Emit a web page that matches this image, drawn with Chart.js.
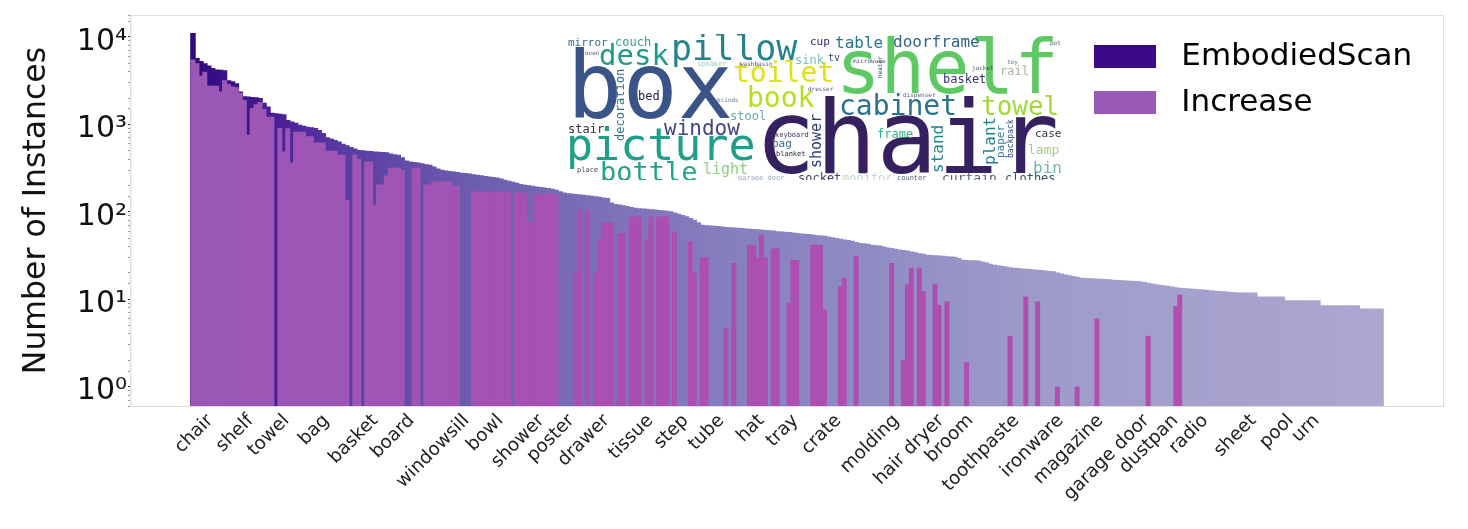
<!DOCTYPE html>
<html>
<head>
<meta charset="utf-8">
<style>
	body { margin: 0; background: #fff; }
	canvas { display: block; }
</style>
<script src="https://cdn.jsdelivr.net/npm/chart.js@4"></script>
</head>
<body>
<canvas id="instances" width="1468" height="529"></canvas>
<script type="text/javascript">
	var _ = null;

	// the categories that get a label, the others are not readable in the picture
	var tickLabels = [
		"chair", "shelf", "towel", "bag", "basket", "board", "windowsill", "bowl", "shower", "poster",
		"drawer", "tissue", "step", "tube", "hat", "tray", "crate", "molding", "hair dryer", "broom",
		"toothpaste", "ironware", "magazine", "garage door", "dustpan", "radio", "sheet", "pool", "urn"
	];

	// where each label ends on the bar axis, they are not evenly spaced in the picture
	var tickPositions = [
		4.4, 14.6, 23.7, 33.8, 46.2, 55.4, 69.3, 77.9, 88.3, 95.9,
		104.8, 115.9, 124.8, 133.9, 144, 152.7, 163.5, 178.2, 189.6, 197,
		208.6, 219.8, 229.9, 241.6, 248.9, 256.5, 268.7, 278.1, 284.7
	];

	var embodiedScan = [
		11100, 5750, 5300, 5000, 4700, 4400, 4250, 4200, 4150, 3200,
		3100, 2950, 2370, 2100, 2080, 2060, 2040, 2000, 1760, 1600,
		1360, 1340, 1320, 1300, 1120, 1080, 1040, 990, 960, 940,
		925, 910, 860, 795, 710, 690, 660, 635, 600, 575,
		550, 530, 510, 505, 500, 495, 490, 487, 482, 478,
		465, 455, 448, 420, 385, 375, 370, 365, 358, 350,
		345, 330, 312, 302, 297, 293, 289, 285, 280, 277,
		273, 269, 265, 261, 257, 253, 250, 247, 240, 233,
		226, 220, 214, 208, 204, 201, 198, 195, 192, 189,
		187, 183, 178, 172, 166, 163, 162, 160, 158, 156,
		154, 152, 150, 148, 146, 144, 128, 123, 121, 119,
		116, 113, 111, 110, 109, 108, 107, 106, 105, 104,
		103, 101, 98, 95, 92, 89, 85, 81, 76, 71,
		70, 69.5, 69, 68.5, 68, 67, 66.5, 66, 65.5, 65,
		64.5, 64, 63.5, 63, 62.5, 62, 61.5, 61, 60, 59.5,
		59, 58.5, 58, 57, 56.5, 56, 55.5, 55, 54, 53.5,
		53, 52, 51, 50, 49, 48, 47.5, 46.5, 45, 44,
		43.5, 43, 42, 41.5, 41, 40, 39, 38.5, 37.8, 37,
		36.5, 36, 35, 34.5, 33.5, 33, 32.3, 32, 31.8, 31.6,
		31.4, 31, 30.8, 30.6, 29.5, 28.3, 28, 27.9, 27.8, 27.7,
		27, 26.2, 25.5, 24.8, 24.4, 24, 23.6, 23.2, 22.9, 22.7,
		22.5, 22.3, 22.1, 21.9, 21.7, 21.5, 21.3, 21, 20.8, 20.2,
		19.7, 19.2, 18.8, 18.4, 18, 17.6, 17.5, 17.4, 17.3, 17.2,
		17.1, 17, 16.9, 16.7, 16.6, 16.5, 16.4, 16.3, 16.2, 16.1,
		16, 15.7, 15.4, 15.1, 14.8, 14.6, 14.4, 14.2, 14, 13.7,
		13.5, 13.4, 13.3, 13.2, 13.1, 13, 12.9, 12.8, 12.6, 12.5,
		12.4, 12.3, 12.2, 12.1, 12, 11.9, 11.9, 11.9, 11.9, 11.9,
		10.7, 10.7, 10.7, 10.7, 10.7, 10.7, 10.7, 9.7, 9.7, 9.7,
		9.7, 9.7, 9.7, 9.7, 9.7, 9.7, 8.5, 8.5, 8.5, 8.5,
		8.5, 8.5, 8.5, 8.5, 8.5, 8.5, 7.8, 7.8, 7.8, 7.8,
		7.8, 7.8
	];

	var increase = [
		5500, 5000, 3600, 4000, 2770, 2770, 2770, 2370, 3200, 2900,
		2700, 2650, 2300, 1900, 760, 1540, 1700, 1800, 1500, 1220,
		1220, _, 910, 490, 900, 365, 820, 820, 820, 730,
		730, 620, 620, 620, 500, 500, 500, 450, 450, 137,
		_, 450, 400, _, 376, 376, 120, 205, 205, 260,
		318, 318, 318, 300, _, _, 318, 318, _, 205,
		205, 222, 222, 222, 222, 222, 200, 200, _, _,
		_, 170, 170, 170, 170, 170, 170, 170, 170, 170,
		170, _, 165, 165, 165, 77, 77, 160, 160, 160,
		160, 160, 160, _, _, _, _, 20, 105, _,
		105, _, 20, 48, 75, 75, 75, _, 57, 57,
		_, 88, 88, 88, _, 48, 88, _, 88, 88,
		88, _, 59, _, _, _, 46, 20, _, 30,
		30, _, _, _, _, 4.7, _, 26, _, _,
		_, 42, 42, 30, 55, 30, _, 38, 38, _,
		_, 9, 28, 28, _, _, _, 42, 42, 42,
		7.6, _, _, _, 14, 17.6, _, _, 31, _,
		_, _, _, _, _, _, _, 26, _, _,
		2, 15, 22.9, _, 22.9, 12.3, _, _, 15, 8.6,
		_, 9.4, _, _, _, _, 1.9, _, _, _,
		_, _, _, _, _, _, _, 3.8, _, _,
		_, 10.7, _, _, 9.4, _, _, _, _, 1,
		_, _, _, _, 1, _, _, _, _, 6,
		_, _, _, _, _, _, _, _, _, _,
		_, _, 3.8, _, _, _, _, _, _, 8.3,
		11.3
	];

	var barIndexes = embodiedScan.map(function(v, i) { return i; });

	// word, x, baseline y, font size, colour, vertical
	var wordCloud = [
		["chair", 755, 173, 101, "#35215f"],
		["shelf", 836, 93, 74, "#5ec962"],
		["box", 567, 118, 92, "#3b5488"],
		["picture", 566, 160, 45, "#1f9e89"],
		["pillow", 671, 60, 35, "#26828e"],
		["desk", 599, 65, 29, "#1f9a8a"],
		["toilet", 733, 82, 28, "#dde318"],
		["book", 747, 107, 28, "#b5de2b"],
		["cabinet", 839, 115, 28, "#2c728e"],
		["towel", 981, 115, 26, "#a0da39"],
		["window", 664, 135, 21, "#414487"],
		["bottle", 600, 181, 27, "#20a386"],
		["table", 835, 48, 16, "#2a768e"],
		["doorframe", 893, 47, 16, "#33638d"],
		["mirror", 568, 46, 11, "#2f6c8e"],
		["couch", 615, 46, 12, "#3a9a8a"],
		["cup", 810, 45, 11, "#2e2e6e"],
		["basket", 943, 83, 12, "#31357b"],
		["bed", 638, 100, 12, "#222244"],
		["decoration", 624, 141, 12, "#2c728e", true],
		["stair", 568, 133, 12, "#333344"],
		["stool", 730, 120, 12, "#6aa8a8"],
		["sink", 795, 64, 12, "#77c0b8"],
		["tv", 828, 61, 10, "#444466"],
		["light", 703, 174, 15, "#8fd17a"],
		["frame", 877, 138, 12, "#2fb47c"],
		["shower", 821, 168, 15, "#2a3a78", true],
		["stand", 943, 173, 16, "#25858e", true],
		["plant", 995, 165, 16, "#26828e", true],
		["paper", 1004, 158, 11, "#3b7a9a", true],
		["backpack", 1013, 158, 8, "#2c4f80", true],
		["case", 1035, 137, 11, "#333344"],
		["lamp", 1028, 154, 13, "#a8c98a"],
		["bin", 1033, 173, 16, "#6fb7a8"],
		["rail", 1000, 75, 12, "#b0b0a0"],
		["curtain", 942, 182, 13, "#556677"],
		["clothes", 1005, 182, 12, "#335566"],
		["socket", 798, 182, 12, "#444466"],
		["keyboard", 775, 137, 7, "#333366"],
		["bag", 772, 147, 11, "#31688e"],
		["blanket", 776, 156, 7, "#222233"],
		["oven", 585, 55, 6, "#555577"],
		["washbasin", 740, 66, 6, "#555566"],
		["dresser", 808, 91, 6, "#555577"],
		["dispenser", 903, 97, 6, "#556677"],
		["microwave", 853, 63, 6, "#445566"],
		["place", 577, 172, 7, "#444455"],
		["blinds", 717, 102, 6, "#667788"],
		["speaker", 697, 66, 7, "#99ccbb"],
		["monitor", 842, 182, 12, "#c0dcc8"],
		["counter", 897, 180, 7, "#556677"],
		["garage door", 738, 180, 7, "#99aabb"],
		["heater", 882, 78, 6, "#334455", true],
		["jacket", 972, 70, 6, "#445566"],
		["pot", 1050, 45, 6, "#556677"],
		["toy", 1007, 64, 6, "#667788"]
	];

	var baseStops = [[0, [46, 10, 124]], [21, [74, 31, 150]], [40, [90, 62, 164]], [70, [108, 92, 174]],
		[110, [127, 116, 186]], [170, [143, 140, 196]], [220, [160, 156, 202]], [301, [172, 167, 208]]];
	var increaseStops = [[0, [154, 88, 182]], [60, [160, 84, 180]], [110, [170, 79, 178]], [250, [176, 79, 174]]];

	function mixColor(stops, i) {
		for (var k = 1; k < stops.length; k++) {
			if (i <= stops[k][0]) {
				var t = (i - stops[k - 1][0]) / (stops[k][0] - stops[k - 1][0]);
				var a = stops[k - 1][1], b = stops[k][1];
				return 'rgb(' + a.map(function(c, n) { return Math.round(c + (b[n] - c) * t); }).join(',') + ')';
			}
		}
		return 'rgb(' + stops[stops.length - 1][1].join(',') + ')';
	}

	var superscripts = { 0: '\u2070', 1: '\u00b9', 2: '\u00b2', 3: '\u00b3', 4: '\u2074' };

	var framePlugin = {
		id: 'frame',
		beforeDatasetsDraw: function(chart) {
			var a = chart.chartArea, ctx = chart.ctx;
			ctx.save();
			ctx.strokeStyle = '#dedede';
			ctx.lineWidth = 1;
			ctx.strokeRect(a.left - 0.5, a.top + 0.5, a.width + 1, a.height);
			ctx.restore();
		}
	};

	var wordCloudPlugin = {
		id: 'wordCloud',
		afterDraw: function(chart) {
			var ctx = chart.ctx;
			ctx.save();
			ctx.beginPath();
			ctx.rect(567, 34, 495, 146);
			ctx.clip();
			ctx.textAlign = 'left';
			ctx.textBaseline = 'alphabetic';
			wordCloud.forEach(function(w) {
				ctx.save();
				ctx.translate(w[1], w[2]);
				if (w[5]) {
					ctx.rotate(-Math.PI / 2);
				}
				ctx.font = w[3] + 'px "DejaVu Sans Mono"';
				ctx.fillStyle = w[4];
				ctx.fillText(w[0], 0, 0);
				ctx.restore();
			});
			ctx.restore();
		}
	};

	// the legend has no free position of its own, so move its box once layout is done
	var legendPlugin = {
		id: 'legendBox',
		afterLayout: function(chart) {
			var l = chart.legend;
			l.left = 1079;
			l.right = 1440;
			l.top = 26;
			l.bottom = 400;
		}
	};

	var chart = new Chart(document.getElementById('instances').getContext('2d'), {
		type: 'bar',
		data: {
			labels: barIndexes,
			datasets: [{
				label: 'EmbodiedScan',
				data: embodiedScan,
				order: 1,
				grouped: false,
				barPercentage: 1.4,
				categoryPercentage: 1,
				backgroundColor: function(ctx) { return mixColor(baseStops, ctx.dataIndex); }
			}, {
				label: 'Increase',
				data: increase,
				order: 0,
				grouped: false,
				barPercentage: 1.26,
				categoryPercentage: 1,
				backgroundColor: function(ctx) { return mixColor(increaseStops, ctx.dataIndex); }
			}]
		},
		options: {
			responsive: false,
			animation: false,
			layout: { autoPadding: false, padding: { left: 18, top: 15, right: 25, bottom: 0 } },
			scales: {
				x: {
					type: 'linear',
					offset: false,
					min: -15.7,
					max: 316.7,
					afterBuildTicks: function(scale) {
						scale.ticks = tickPositions.map(function(p) { return { value: p }; });
					},
					afterFit: function(scale) { scale.height = 123; },
					grid: { drawOnChartArea: false, drawTicks: false },
					border: { color: '#cfcfcf' },
					ticks: {
						autoSkip: false,
						minRotation: 45,
						maxRotation: 45,
						padding: 4,
						color: '#222',
						font: { family: 'DejaVu Sans', size: 18.4 },
						callback: function(v, k) { return tickLabels[k]; }
					}
				},
				y: {
					type: 'logarithmic',
					min: 0.6,
					max: 17800,
					afterFit: function(scale) {
						scale.width = 113;
						// half a label of top padding would push the plot down
						scale.paddingTop = 0;
						scale.paddingBottom = 0;
					},
					title: {
						display: true,
						text: 'Number of Instances',
						color: '#111',
						padding: 0,
						font: { family: 'DejaVu Sans', size: 31.5 }
					},
					grid: {
						drawOnChartArea: false,
						tickLength: 3,
						tickColor: function(ctx) { return ctx.tick && ctx.tick.major ? '#333' : '#999'; }
					},
					border: { color: '#efefef' },
					ticks: {
						autoSkip: false,
						padding: 1,
						labelOffset: 5,
						color: '#111',
						font: { family: 'DejaVu Sans', size: 30 },
						major: { enabled: true },
						callback: function(v) {
							var p = Math.log10(v);
							if (Math.abs(p - Math.round(p)) > 1e-6) {
								return '';
							}
							return '10' + superscripts[Math.round(p)];
						}
					}
				}
			},
			plugins: {
				tooltip: { enabled: false },
				legend: {
					position: 'chartArea',
					align: 'start',
					labels: {
						boxWidth: 62,
						boxHeight: 23,
						padding: 15,
						color: '#111',
						font: { family: 'DejaVu Sans', size: 31 },
						generateLabels: function() {
							return [
								{ text: ' EmbodiedScan', fillStyle: '#3a0a86', strokeStyle: '#3a0a86', lineWidth: 0, datasetIndex: 0 },
								{ text: ' Increase', fillStyle: '#9b59b6', strokeStyle: '#9b59b6', lineWidth: 0, datasetIndex: 1 }
							];
						}
					}
				}
			}
		},
		plugins: [framePlugin, wordCloudPlugin, legendPlugin]
	});
</script>
</body>
</html>
